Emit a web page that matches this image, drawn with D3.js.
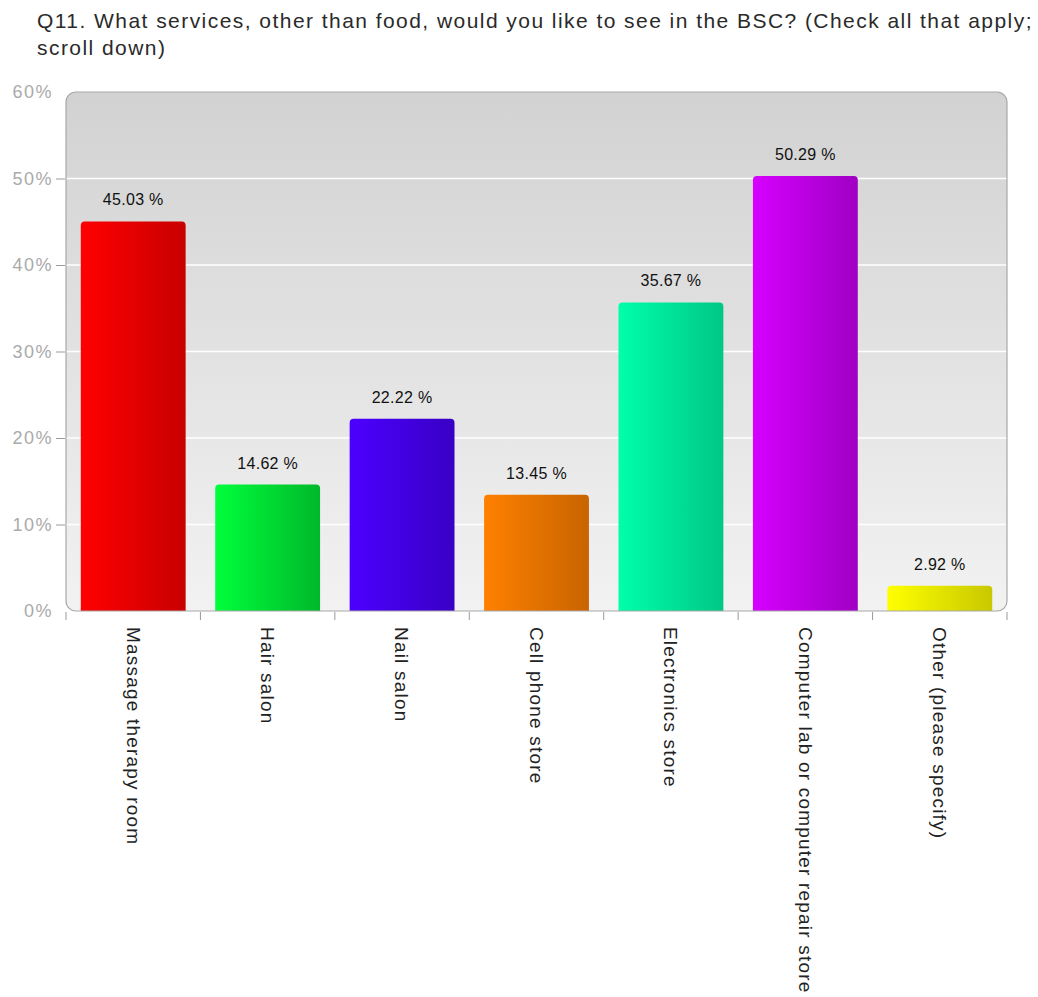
<!DOCTYPE html>
<html>
<head>
<meta charset="utf-8">
<script src="https://cdn.jsdelivr.net/npm/d3@7"></script>
<style>
  body { margin: 0; background: #fff; }
  svg { display: block; font-family: "Liberation Sans", Arial, sans-serif; }
</style>
</head>
<body>
<svg id="chart" width="1038" height="997"></svg>
<script>
// chart data
var categories = ['Massage therapy room', 'Hair salon', 'Nail salon', 'Cell phone store',
  'Electronics store', 'Computer lab or computer repair store', 'Other (please specify)']
var values = [45.03, 14.62, 22.22, 13.45, 35.67, 50.29, 2.92]
var yTicks = [0, 10, 20, 30, 40, 50, 60]
var barColors = [['#ff0000', '#c80000'], ['#00ff3c', '#00b82a'], ['#4c00ff', '#3800c4'],
  ['#ff8000', '#c86400'], ['#00ffaa', '#00c785'], ['#d600ff', '#a000c4'], ['#ffff00', '#c8c800']]
var titleLines = ['Q11. What services, other than food, would you like to see in the BSC? (Check all that apply;',
  'scroll down)']

var svg = d3.select('#chart')
var margin = {top: 92, left: 66, right: 31, bottom: 386}
var width = 1038 - margin.left - margin.right
var height = 997 - margin.top - margin.bottom

// title
svg.append('g').selectAll('text')
  .data(titleLines)
  .enter().append('text')
  .attr('x', 37)
  .attr('y', (d, i) => 28 + i * 27)
  .attr('fill', '#2a2a2a')
  .style('font-size', '21px')
  .style('letter-spacing', '1.45px')
  .text((d) => d)

var defs = svg.append('defs')
var bg = defs.append('linearGradient').attr('id', 'bg')
  .attr('x1', 0).attr('y1', 0).attr('x2', 0).attr('y2', 1)
bg.append('stop').attr('offset', '0%').attr('stop-color', '#d2d2d2')
bg.append('stop').attr('offset', '100%').attr('stop-color', '#f2f2f2')

barColors.forEach((c, i) => {
  var g = defs.append('linearGradient').attr('id', 'bar' + i)
    .attr('x1', 0).attr('y1', 0).attr('x2', 1).attr('y2', 0)
  g.append('stop').attr('offset', '0%').attr('stop-color', c[0])
  g.append('stop').attr('offset', '100%').attr('stop-color', c[1])
})

var x = d3.scaleBand().domain(categories).range([0, width]).paddingInner(0.22).paddingOuter(0.11)
var y = d3.scaleLinear().domain([0, 60]).range([height, 0])

var g = svg.append('g')
  .attr('transform', 'translate(' + margin.left + ',' + margin.top + ')')

// plot background
g.append('rect')
  .attr('x', 0).attr('y', 0)
  .attr('width', width).attr('height', height)
  .attr('rx', 10)
  .attr('fill', 'url(#bg)')

// grid lines
g.append('g').selectAll('line')
  .data(yTicks.filter((d) => d > 0 && d < 60))
  .enter().append('line')
  .attr('x1', 0).attr('x2', width)
  .attr('y1', (d) => y(d)).attr('y2', (d) => y(d))
  .attr('stroke', '#fff')
  .attr('stroke-width', 1.5)

// bars
var barTop = (d, i) => y(values[i])
g.append('g').selectAll('path')
  .data(categories)
  .enter().append('path')
  .attr('fill', (d, i) => 'url(#bar' + i + ')')
  .attr('d', (d, i) => {
    var x0 = x(d); var w = x.bandwidth(); var t = barTop(d, i); var b = y(0); var r = 4
    return 'M' + x0 + ',' + b + 'V' + (t + r) + 'Q' + x0 + ',' + t + ' ' + (x0 + r) + ',' + t +
      'H' + (x0 + w - r) + 'Q' + (x0 + w) + ',' + t + ' ' + (x0 + w) + ',' + (t + r) + 'V' + b + 'Z'
  })

// value labels
g.append('g').selectAll('text')
  .data(categories)
  .enter().append('text')
  .attr('x', (d) => x(d) + x.bandwidth() / 2)
  .attr('y', (d, i) => barTop(d, i) - 16)
  .attr('text-anchor', 'middle')
  .attr('fill', '#111')
  .style('font-size', '16px')
  .style('letter-spacing', '0.3px')
  .text((d, i) => values[i].toFixed(2) + ' %')

// plot border
g.append('rect')
  .attr('x', 0).attr('y', 0)
  .attr('width', width).attr('height', height)
  .attr('rx', 10)
  .attr('fill', 'none')
  .attr('stroke', '#a8a8a8')
  .attr('stroke-width', 1.2)

// y axis
var yAxis = g.append('g')
  .attr('transform', 'translate(-1,0)')
  .call(d3.axisLeft(y).tickValues(yTicks).tickSize(9).tickPadding(3).tickFormat((d) => d + '%'))
yAxis.select('.domain').remove()
yAxis.selectAll('line').attr('stroke', '#999').filter((d) => d === 0 || d === 60).remove()
yAxis.selectAll('text').attr('fill', '#aaa').style('font-size', '18px')
  .style('letter-spacing', '1.5px').attr('font-family', null)

// x axis ticks at band edges
var edges = categories.map((d) => x(d) - x.step() * x.paddingInner() / 2)
edges.push(width)
g.append('g').selectAll('line')
  .data(edges)
  .enter().append('line')
  .attr('x1', (d) => d).attr('x2', (d) => d)
  .attr('y1', height + 1).attr('y2', height + 9)
  .attr('stroke', '#999')

// x labels
g.append('g').selectAll('text')
  .data(categories)
  .enter().append('text')
  .attr('transform', (d) => 'translate(' + (x(d) + x.bandwidth() / 2) + ',' + (height + 16) + ') rotate(90)')
  .attr('dy', '0.35em')
  .attr('fill', '#222')
  .style('font-size', '19px')
  .style('letter-spacing', '1.2px')
  .text((d) => d)
</script>
</body>
</html>
